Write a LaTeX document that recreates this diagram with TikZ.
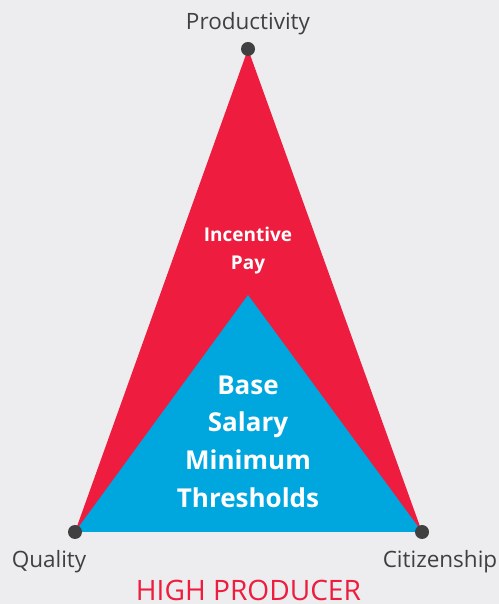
\documentclass[tikz,border=0pt]{standalone}
\usepackage{fontspec}
\setmainfont{Open Sans}
\usetikzlibrary{calc,backgrounds,positioning}
\definecolor{pyrared}{RGB}{238,28,62}
\definecolor{pyrablue}{RGB}{0,166,222}
\definecolor{pyrabg}{RGB}{237,237,239}
\definecolor{pyragray}{RGB}{64,64,64}
\tikzset{corner/.style={circle,fill=pyragray,inner sep=0,minimum size=0.14cm},
     cornerlabel/.style={
       text=pyragray,
       inner sep=0,
       font=\fontsize{6.4}{7.5}\selectfont
     },
     insidelabel/.style={
       text=white,
       inner sep=0,
       align=center,
       font=\bfseries
     }
}

\begin{document}
\begin{tikzpicture}[
    smalltext/.style={font=\bfseries\fontsize{5.4}{8}\selectfont},
    bigtext/.style={font=\bfseries\fontsize{7.4}{10.7}\selectfont}]
    \fill[pyrabg] (0,0) rectangle (4.99,6.04);
    \useasboundingbox (0,0) rectangle (4.99,6.04);

    % vertices of the pyramid
    \coordinate (top) at (2.48,5.55);
    \coordinate (left) at (0.75,0.72);
    \coordinate (right) at (4.22,0.72);
    \coordinate (inner) at (2.48,3.09);
    \coordinate (mid) at ($(left)!0.5!(right)$);

    \fill[pyrared] (top) -- (left) -- (right) -- cycle;
    \fill[pyrablue] (inner) -- (left) -- (right) -- cycle;

    \node[corner] (prod) at (top) {};
    \node[corner] (qual) at (left) {};
    \node[corner] (citi) at (right) {};

    \node[cornerlabel] (prodlabel) [above=0.06cm of prod] {Productivity};
    \node[cornerlabel] (quallabel) [below=0.1cm of qual, xshift=-0.26cm] {Quality};
    \node[cornerlabel] (citilabel) [below=0.1cm of citi, xshift=0.18cm] {Citizenship};

    \node[insidelabel,smalltext] (incentive) [above=0.2cm of inner] {Incentive\\Pay};
    \node[insidelabel,bigtext] (base) [below=0.8cm of inner] {Base\\Salary\\Minimum\\Thresholds};

    \node[cornerlabel] (producer) [below=0.47cm of mid, text=pyrared,
      font=\fontsize{8}{9.6}\selectfont] {HIGH PRODUCER};
  \end{tikzpicture}
\end{document}
